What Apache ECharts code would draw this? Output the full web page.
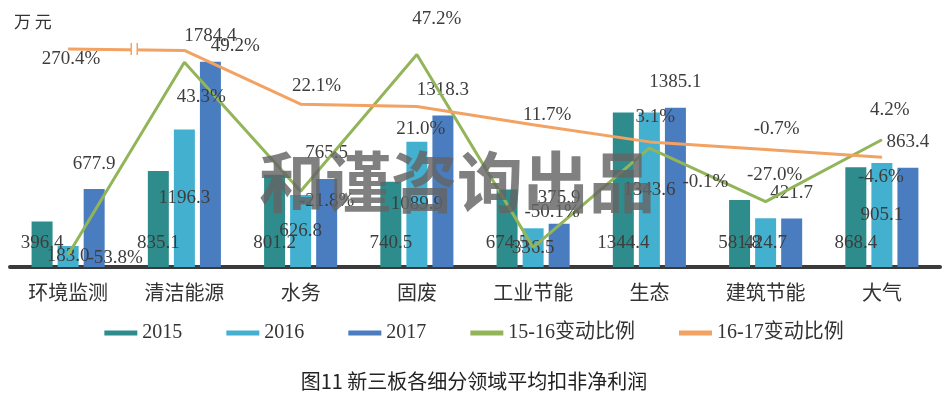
<!DOCTYPE html>
<html>
<head>
<meta charset="utf-8">
<script src="https://cdn.jsdelivr.net/npm/echarts@6/dist/echarts.min.js"></script>
<style>
    html, body { margin: 0; padding: 0; background: #ffffff; }
    #chart { width: 948px; height: 399px; }
</style>
</head>
<body>
<div id="chart"></div>
<script>

var categories = ['环境监测', '清洁能源', '水务', '固废', '工业节能', '生态', '建筑节能', '大气'];

var profit2015 = [396.4, 835.1, 801.2, 740.5, 674.5, 1344.4, 581.8, 868.4];
var profit2016 = [183.0, 1196.3, 626.8, 1089.9, 336.5, 1343.6, 424.7, 905.1];
var profit2017 = [677.9, 1784.4, 765.5, 1318.3, 375.9, 1385.1, 421.7, 863.4];

var change1516 = [-53.8, 43.3, -21.8, 47.2, -50.1, -0.1, -27.0, 4.2];
var change1617 = [270.4, 49.2, 22.1, 21.0, 11.7, 3.1, -0.7, -4.6];

var legendNames = ['2015', '2016', '2017', '15-16变动比例', '16-17变动比例'];

// the orange line is broken above this value, like the original
var breakCap = 50;

// label placement of the two lines (shift from the point, in px), as laid out in the original
var shift1516 = [[47, 3], [17, 35], [26, 10], [20, -35], [19, -35], [56, 34], [9, -27], [8, -30]];
var shift1617 = [[3, 10], [51, -4], [16, -18], [4, 23], [14, -10], [6, -25], [11, -20], [-1, 20]];

var numFont = "'Liberation Serif', 'Noto Sans CJK SC', serif";
var cnFont = "'Noto Sans CJK SC', 'Liberation Serif', sans-serif";
var labelColor = '#3d3d3d';

var chart = echarts.init(document.getElementById('chart'));

function barSeries(name, values, color, label) {
    return {
        name: name,
        type: 'bar',
        barWidth: 21,
        barGap: '24%',
        data: values,
        itemStyle: { color: color },
        label: Object.assign({
            show: true,
            color: labelColor,
            fontFamily: numFont,
            fontSize: 19,
            formatter: function (p) { return values[p.dataIndex].toFixed(1); }
        }, label),
        z: 2
    };
}

function lineSeries(name, values, color, shifts) {
    return {
        name: name,
        type: 'line',
        yAxisIndex: 1,
        data: values.map(function (v, i) {
            return {
                value: Math.min(v, breakCap),
                label: { offset: shifts[i] }
            };
        }),
        symbol: 'circle',
        symbolSize: 1,
        lineStyle: { width: 3, color: color },
        itemStyle: { color: color },
        label: {
            show: true,
            position: 'inside',
            color: labelColor,
            fontFamily: numFont,
            fontSize: 19,
            formatter: function (p) { return values[p.dataIndex].toFixed(1) + '%'; }
        },
        z: 3
    };
}

var option = {
    animation: false,
    grid: { left: 10, right: 8, top: 37, bottom: 132 },
    title: {
        text: '图11 新三板各细分领域平均扣非净利润',
        left: 'center',
        top: 366,
        textStyle: { fontFamily: cnFont, fontSize: 20, fontWeight: 'normal', color: '#222' }
    },
    legend: {
        data: legendNames,
        top: 318,
        left: 'center',
        icon: 'rect',
        itemWidth: 33,
        itemHeight: 5,
        itemGap: 44,
        textStyle: { fontFamily: numFont, fontSize: 20, color: '#333' }
    },
    xAxis: {
        type: 'category',
        data: categories,
        axisLine: { lineStyle: { color: '#3a3a3a', width: 4 } },
        axisTick: { show: false },
        axisLabel: { fontFamily: cnFont, fontSize: 20, color: '#333', margin: 15 }
    },
    yAxis: [
        { type: 'value', min: 0, max: 2000, show: false, splitLine: { show: false } },
        { type: 'value', min: -60, max: 56, show: false, splitLine: { show: false } }
    ],
    series: [
        barSeries('2015', profit2015, '#2f8c8c', { position: 'insideBottom', distance: 14 }),
        barSeries('2016', profit2016, '#43b0d0', { position: 'inside' }),
        barSeries('2017', profit2017, '#4a7dbf', { position: 'top', distance: 16 }),
        lineSeries('15-16变动比例', change1516, '#93b55a', shift1516),
        lineSeries('16-17变动比例', change1617, '#f2a263', shift1617)
    ]
};

chart.setOption(option);

// break mark on the orange line, unit text and the watermark
var x0 = chart.convertToPixel({ xAxisIndex: 0 }, categories[0]);
var x1 = chart.convertToPixel({ xAxisIndex: 0 }, categories[1]);
var yb = chart.convertToPixel({ yAxisIndex: 1 }, breakCap);
var bx = (x0 + x1) / 2 + 8;

chart.setOption({
    graphic: [
        {
            type: 'text',
            left: 14,
            top: 13,
            style: { text: '万 元', font: '17px ' + cnFont, fill: '#333' }
        },
        {
            type: 'rect',
            shape: { x: bx - 3, y: yb - 6, width: 6, height: 12 },
            style: { fill: '#ffffff' },
            z: 10
        },
        {
            type: 'line',
            shape: { x1: bx - 3, y1: yb - 6, x2: bx - 3, y2: yb + 6 },
            style: { stroke: '#f2a263', lineWidth: 1.5 },
            z: 10
        },
        {
            type: 'line',
            shape: { x1: bx + 3, y1: yb - 6, x2: bx + 3, y2: yb + 6 },
            style: { stroke: '#f2a263', lineWidth: 1.5 },
            z: 10
        },
        {
            type: 'text',
            x: 457,
            y: 182,
            style: {
                text: '和谨咨询出品',
                font: 'bold 66px ' + cnFont,
                fill: 'rgba(100,100,100,0.82)',
                align: 'center',
                verticalAlign: 'middle'
            },
            z: 100
        }
    ]
});

</script>
</body>
</html>
